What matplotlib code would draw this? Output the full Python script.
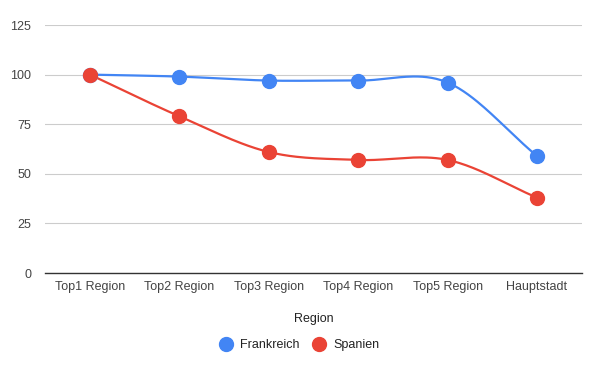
import numpy as np
import matplotlib
matplotlib.use("Agg")
import matplotlib.pyplot as plt
from matplotlib.lines import Line2D

categories = ["Top1 Region", "Top2 Region", "Top3 Region", "Top4 Region", "Top5 Region", "Hauptstadt"]
frankreich = [100, 99, 97, 97, 96, 59]
spanien = [100, 79, 61, 57, 57, 38]
yticks = [0, 25, 50, 75, 100, 125]
xlabel = "Region"
series_names = ["Frankreich", "Spanien"]
colors = ["#4285F4", "#EA4335"]

plt.rcParams['font.family'] = ['Liberation Sans', 'DejaVu Sans']


def catmull(x, y, n=40):
    x = np.asarray(x, float)
    y = np.asarray(y, float)
    m = np.zeros_like(y)
    m[1:-1] = (y[2:] - y[:-2]) / 2
    m[0] = y[1] - y[0]
    m[-1] = y[-1] - y[-2]
    xs, ys = [], []
    for i in range(len(x) - 1):
        t = np.linspace(0, 1, n)
        h00 = 2*t**3 - 3*t**2 + 1
        h10 = t**3 - 2*t**2 + t
        h01 = -2*t**3 + 3*t**2
        h11 = t**3 - t**2
        xs.append(x[i] + t*(x[i+1]-x[i]))
        ys.append(h00*y[i] + h10*m[i] + h01*y[i+1] + h11*m[i+1])
    return np.concatenate(xs), np.concatenate(ys)


fig = plt.figure(figsize=(6, 3.71), dpi=100)
ax = fig.add_axes([0.0755, 0.264, 0.894, 0.6686])
xpos = np.arange(len(categories))
for vals, col in zip([frankreich, spanien], colors):
    sx, sy = catmull(xpos, vals)
    ax.plot(sx, sy, color=col, lw=1.6, zorder=3, solid_capstyle='round')
    ax.plot(xpos, vals, 'o', color=col, ms=10, zorder=4, mec=col)

ax.set_xlim(-0.5, len(categories) - 0.5)
ax.set_ylim(0, 125)
ax.set_yticks(yticks)
ax.set_xticks(xpos)
ax.set_xticklabels(categories)
ax.tick_params(axis='both', length=0, labelsize=9, colors='#444444')
ax.tick_params(axis='y', pad=10)
ax.tick_params(axis='x', pad=6)
ax.grid(axis='y', color='#cccccc', lw=0.8)
ax.set_axisbelow(True)
for s in ['top', 'right', 'left']:
    ax.spines[s].set_visible(False)
ax.spines['bottom'].set_color('#333333')
ax.spines['bottom'].set_linewidth(1.0)
ax.spines['bottom'].set_zorder(2)

fig.text(0.523, (371 - 319) / 371, xlabel, ha='center', va='center', fontsize=9, color='#222222')
handles = [Line2D([], [], marker='o', ls='', color=c, ms=10) for c in colors]
fig.legend(handles, series_names, loc='center', bbox_to_anchor=(0.494, (371 - 345) / 371),
           ncol=2, frameon=False, fontsize=9, handletextpad=0.1, columnspacing=0.6,
           labelcolor='#222222')

fig.savefig("out.png", dpi=100)
